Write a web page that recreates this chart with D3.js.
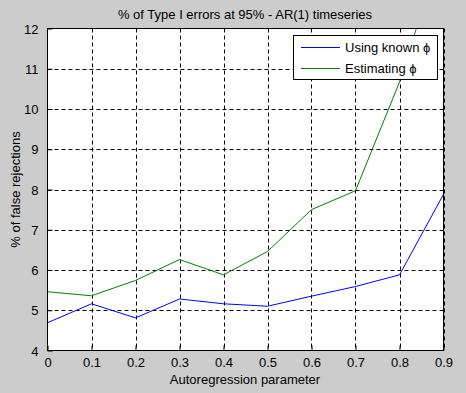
<!DOCTYPE html>
<html><head><meta charset="utf-8">
<script src="https://cdn.jsdelivr.net/npm/d3@7"></script>
<style>
html,body{margin:0;padding:0;background:#cccccc;}
text{font-family:"Liberation Sans",Arial,sans-serif;font-size:13px;fill:#000;}
</style></head>
<body>
<svg id="c" width="466" height="393"></svg>
<script>
const xValues = [0, 0.1, 0.2, 0.3, 0.4, 0.5, 0.6, 0.7, 0.8, 0.9];
const knownPhi = [4.69, 5.16, 4.81, 5.28, 5.16, 5.10, 5.35, 5.59, 5.88, 7.88];
const estimatingPhi = [5.46, 5.36, 5.74, 6.26, 5.88, 6.46, 7.50, 7.97, 10.67, 14.15];
const xTicks = [0, 0.1, 0.2, 0.3, 0.4, 0.5, 0.6, 0.7, 0.8, 0.9];
const yTicks = [4, 5, 6, 7, 8, 9, 10, 11, 12];
const seriesNames = ["Using known \u03D5", "Estimating \u03D5"];
const seriesColors = ["#0000ff", "#008000"];

const L = 47.5, R = 443.5, T = 28.5, B = 350.5;
const svg = d3.select("#c");
svg.append("rect").attr("width", 466).attr("height", 393).attr("fill", "#cccccc");

const x = d3.scaleLinear().domain([0, 0.9]).range([L, R]);
const y = d3.scaleLinear().domain([4, 12]).range([B, T]);

svg.append("rect").attr("x", L).attr("y", T).attr("width", R - L).attr("height", B - T)
  .attr("fill", "#fff");

svg.append("defs").append("clipPath").attr("id", "clip")
  .append("rect").attr("x", L).attr("y", T).attr("width", R - L).attr("height", B - T);

// grid
const g = svg.append("g");
g.selectAll(".vg").data(xTicks.slice(1)).join("line")
  .attr("x1", d => Math.round(x(d)) + 0.5).attr("x2", d => Math.round(x(d)) + 0.5)
  .attr("y1", T).attr("y2", B)
  .attr("stroke", "#000").attr("stroke-dasharray", "4,3");
g.selectAll(".hg").data(yTicks.slice(1, -1)).join("line")
  .attr("y1", d => Math.round(y(d)) + 0.5).attr("y2", d => Math.round(y(d)) + 0.5)
  .attr("x1", L).attr("x2", R)
  .attr("stroke", "#000").attr("stroke-dasharray", "4,3");

// lines
const line = d3.line().x((d, i) => x(xValues[i])).y(d => y(d));
const lines = svg.append("g").attr("clip-path", "url(#clip)");
[knownPhi, estimatingPhi].forEach((s, i) => {
  lines.append("path").datum(s).attr("d", line).attr("fill", "none")
    .attr("stroke", seriesColors[i]).attr("stroke-width", 1);
});

// axes
const xAxis = d3.axisBottom(x).tickValues(xTicks).tickFormat(d => d3.format("")(+d.toFixed(1)))
  .tickSizeInner(-5).tickSizeOuter(0).tickPadding(7);
const gx = svg.append("g").attr("transform", `translate(0,${B})`).call(xAxis);
gx.select(".domain").remove();
gx.selectAll("line").attr("stroke", "#000");
gx.selectAll("text").attr("font-size", 13).attr("dy", "0.71em");

const yAxis = d3.axisLeft(y).tickValues(yTicks).tickFormat(d3.format("d"))
  .tickSizeInner(-5).tickSizeOuter(0).tickPadding(9);
const gy = svg.append("g").attr("transform", `translate(${L},0)`).call(yAxis);
gy.select(".domain").remove();
gy.selectAll("line").attr("stroke", "#000");
gy.selectAll("text").attr("font-size", 13).attr("dy", "0.36em");

// box
svg.append("rect").attr("x", L).attr("y", T).attr("width", R - L).attr("height", B - T)
  .attr("fill", "none").attr("stroke", "#000").attr("stroke-width", 1);

// titles
svg.append("text").attr("x", 245).attr("y", 19).attr("text-anchor", "middle")
  .text("% of Type I errors at 95% - AR(1) timeseries");
svg.append("text").attr("x", 245).attr("y", 384).attr("text-anchor", "middle")
  .text("Autoregression parameter");
svg.append("text").attr("transform", `translate(20,${(T + B) / 2}) rotate(-90)`)
  .attr("text-anchor", "middle").text("% of false rejections");

// legend
const lg = svg.append("g");
lg.append("rect").attr("x", 293.5).attr("y", 35.5).attr("width", 144).attr("height", 44)
  .attr("fill", "#fff").attr("stroke", "#000");
seriesNames.forEach((n, i) => {
  const yy = 47.5 + i * 21;
  lg.append("line").attr("x1", 301).attr("x2", 340).attr("y1", yy).attr("y2", yy)
    .attr("stroke", seriesColors[i]);
  lg.append("text").attr("x", 345).attr("y", yy).attr("dy", "0.36em").text(n);
});
</script>
</body></html>
